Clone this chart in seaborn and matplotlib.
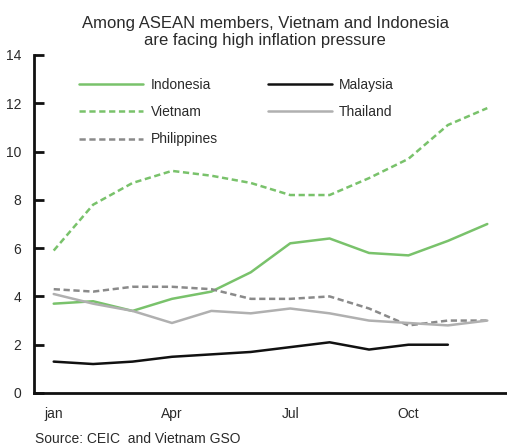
import numpy as np
import pandas as pd
import matplotlib
matplotlib.use("Agg")
import matplotlib.pyplot as plt
import seaborn as sns
from matplotlib.lines import Line2D

# Monthly CPI inflation (% y/y)
months = ["jan", "Feb", "Mar", "Apr", "May", "Jun", "Jul", "Aug", "Sep", "Oct", "Nov", "Dec"]
indonesia = [3.7, 3.8, 3.4, 3.9, 4.2, 5.0, 6.2, 6.4, 5.8, 5.7, 6.3, 7.0]
vietnam = [5.9, 7.8, 8.7, 9.2, 9.0, 8.7, 8.2, 8.2, 8.9, 9.7, 11.1, 11.8]
philippines = [4.3, 4.2, 4.4, 4.4, 4.3, 3.9, 3.9, 4.0, 3.5, 2.8, 3.0, 3.0]
malaysia = [1.3, 1.2, 1.3, 1.5, 1.6, 1.7, 1.9, 2.1, 1.8, 2.0, 2.0]
thailand = [4.1, 3.7, 3.4, 2.9, 3.4, 3.3, 3.5, 3.3, 3.0, 2.9, 2.8, 3.0]
labelled_months = ["jan", "Apr", "Jul", "Oct"]
y_ticks = [0, 2, 4, 6, 8, 10, 12, 14]

sns.set_style("white")
plt.rcParams["font.family"] = ["Liberation Sans", "DejaVu Sans"]
plt.rcParams["lines.scale_dashes"] = False

GREEN = "#79c26b"
GRAY_DASH = "#8a8a8a"
GRAY = "#b0b0b0"
BLACK = "#111111"
TEXT = "#2a2a2a"

series = [
    ("Indonesia", indonesia, GREEN, "-"),
    ("Vietnam", vietnam, GREEN, (0, (4.5, 2.6))),
    ("Philippines", philippines, GRAY_DASH, (0, (4.5, 2.6))),
    ("Malaysia", malaysia, BLACK, "-"),
    ("Thailand", thailand, GRAY, "-"),
]

fig = plt.figure(figsize=(5.07, 4.46), dpi=100)
ax = fig.add_axes([34 / 507, 53 / 446, 1 - 34 / 507, 338 / 446])

handles = []
for name, vals, color, ls in series:
    df = pd.DataFrame({"m": np.arange(len(vals)), "v": vals})
    sns.lineplot(data=df, x="m", y="v", ax=ax, color=color, linestyle=ls,
                 linewidth=1.8, legend=False)
    handles.append(Line2D([], [], color=color, linestyle=ls, linewidth=1.8, label=name))

ax.set_xlim(-0.5, 11.5)
ax.set_ylim(0, 14)
ax.set_xlabel("")
ax.set_ylabel("")

# tick marks between months, labels on selected months
ax.set_xticks(np.arange(0.5, 11, 1.0))
ax.set_xticklabels([])
ax.set_xticks([months.index(m) for m in labelled_months], minor=True)
ax.set_xticklabels(labelled_months, minor=True)
ax.tick_params(axis="x", which="major", direction="in", length=6, width=2, color=BLACK)
ax.tick_params(axis="x", which="minor", length=0, pad=10, labelsize=10, labelcolor=TEXT)

ax.set_yticks(y_ticks)
ax.tick_params(axis="y", direction="in", length=7, width=2, color=BLACK, pad=9,
               labelsize=10, labelcolor=TEXT, left=True)

for side in ["top", "right"]:
    ax.spines[side].set_visible(False)
for side in ["left", "bottom"]:
    ax.spines[side].set_linewidth(2)
    ax.spines[side].set_color(BLACK)

fig.legend(handles=handles, ncol=2, loc="upper left",
           bbox_to_anchor=(79 / 507, 1 - 78 / 446), frameon=False,
           fontsize=10, handlelength=4.6, handletextpad=0.55,
           columnspacing=3.6, labelspacing=0.95, borderpad=0, borderaxespad=0,
           labelcolor=TEXT)

fig.text(265 / 507, 1 - 32 / 446,
         "Among ASEAN members, Vietnam and Indonesia\nare facing high inflation pressure",
         ha="center", va="center", fontsize=12, color=TEXT, linespacing=1.15)
fig.text(35 / 507, 1 - 439 / 446, "Source: CEIC  and Vietnam GSO",
         ha="left", va="center", fontsize=10, color=TEXT)

fig.savefig("out.png", dpi=100, facecolor="white")
